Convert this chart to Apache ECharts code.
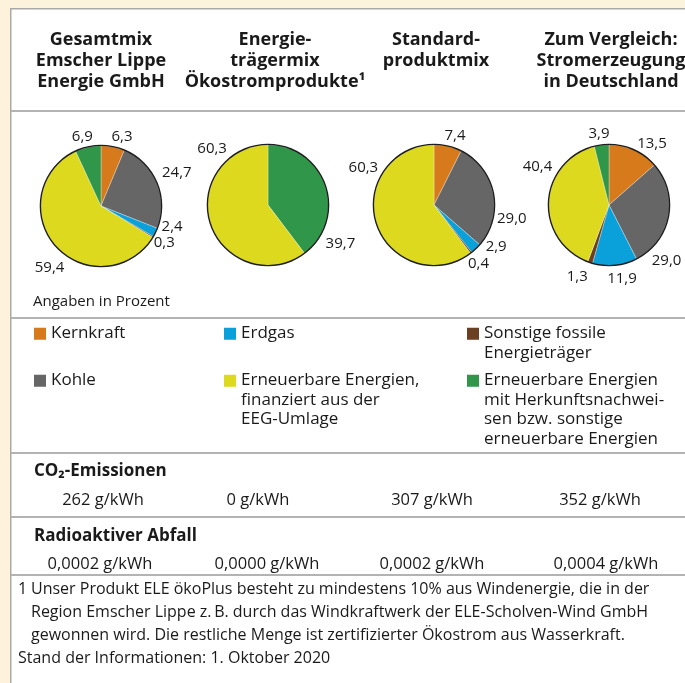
<!DOCTYPE html>
<html>
<head>
<meta charset="utf-8">
<title>Stromkennzeichnung</title>
<script src="https://cdn.jsdelivr.net/npm/echarts@6/dist/echarts.min.js"></script>
<style>
  html, body { margin: 0; padding: 0; background: #fdf2dc; }
  #chart { width: 685px; height: 683px; }
</style>
</head>
<body>
<div id="chart"></div>
<script>
// Energieträger, Reihenfolge wie in den Torten (im Uhrzeigersinn ab 12 Uhr)
const categories = [
  'Kernkraft',
  'Kohle',
  'Erdgas',
  'Sonstige fossile Energieträger',
  'Erneuerbare Energien, finanziert aus der EEG-Umlage',
  'Erneuerbare Energien mit Herkunftsnachweisen bzw. sonstige erneuerbare Energien'
];
// Legendentexte mit Zeilenumbruch
const legendLabels = [
  'Kernkraft',
  'Kohle',
  'Erdgas',
  'Sonstige fossile\nEnergieträger',
  'Erneuerbare Energien,\nfinanziert aus der\nEEG-Umlage',
  'Erneuerbare Energien\nmit Herkunftsnachwei-\nsen bzw. sonstige\nerneuerbare Energien'
];
const pieTitles = [
  'Gesamtmix\nEmscher Lippe\nEnergie GmbH',
  'Energie-\nträgermix\nÖkostromprodukte¹',
  'Standard-\nproduktmix',
  'Zum Vergleich:\nStromerzeugung\nin Deutschland'
];

// Anteile in Prozent
const gesamtmix   = [6.3, 24.7, 2.4, 0.3, 59.4, 6.9];
const oekostrom   = [0, 0, 0, 0, 60.3, 39.7];
const standardmix = [7.4, 29.0, 2.9, 0.4, 60.3, 0];
const deutschland = [13.5, 29.0, 11.9, 1.3, 40.4, 3.9];

// CO2 und radioaktiver Abfall je Spalte (g/kWh)
const co2Values = [262, 0, 307, 352];
const wasteValues = [0.0002, 0.0000, 0.0002, 0.0004];

const footnote = 'Unser Produkt ELE ökoPlus besteht zu mindestens 10% aus Windenergie, die in der\n' +
  'Region Emscher Lippe z.\u2009B. durch das Windkraftwerk der ELE-Scholven-Wind GmbH\n' +
  'gewonnen wird. Die restliche Menge ist zertifizierter Ökostrom aus Wasserkraft.';

// ---- Darstellung ----
const colors = ['#d67a1b', '#666666', '#0aa0d9', '#6b3f21', '#dcd91f', '#30964a'];
const pies = [gesamtmix, oekostrom, standardmix, deutschland];
// beim Ökostrom beginnt die grüne Fläche oben
const sliceOrder = [[0, 1, 2, 3, 4, 5], [5, 0, 1, 2, 3, 4], [0, 1, 2, 3, 4, 5], [0, 1, 2, 3, 4, 5]];
const pieCenters = [[101, 206], [268, 205], [434, 205], [609, 205]];
const pieRadius = 60.5;
// Lage der Zahlen: [Winkel ab 12 Uhr im Uhrzeigersinn, Abstand zum Mittelpunkt]
const labelPlaces = [
  [[17, 72], [66, 83], [106, 74], [120, 73], [220, 80], [345, 72]],
  [null, null, null, null, [315, 79], [118, 82]],
  [[17, 72], [100, 79], [124, 75], [143, 74], [298, 80], null],
  [[35, 75], [134, 80], [170, 75], [204, 78], [298, 81], [352, 72]]
];
const titleX = [101, 275, 436, 611];
const co2X = [103, 258, 432, 600];
const wasteX = [100, 267, 432, 606];

const font = 'Open Sans';
const ink = '#1a1a1a';
const legendLineHeight = 19.5;
const legendCell = [[34, 323.8], [34, 370.8], [224, 323.8], [467, 323.8], [224, 370.8], [467, 370.8]];

const fmtPct = v => v.toFixed(1).replace('.', ',');
const fmtWaste = v => v.toFixed(4).replace('.', ',') + ' g/kWh';

const series = [];
pies.forEach((values, p) => {
  const order = sliceOrder[p].filter(c => values[c] > 0);
  const [cx, cy] = pieCenters[p];
  series.push({
    type: 'pie',
    center: pieCenters[p],
    radius: [0, pieRadius],
    startAngle: 90,
    clockwise: true,
    avoidLabelOverlap: false,
    silent: true,
    itemStyle: { borderColor: 'rgba(255,255,255,0.6)', borderWidth: 0.5 },
    label: {
      show: true,
      position: 'outside',
      formatter: params => fmtPct(params.value),
      fontFamily: font,
      fontSize: 15,
      color: ink
    },
    labelLine: { show: false },
    labelLayout: params => {
      const place = labelPlaces[p][order[params.dataIndex]];
      const a = place[0] * Math.PI / 180;
      return {
        x: cx + place[1] * Math.sin(a),
        y: cy - place[1] * Math.cos(a),
        align: 'center',
        verticalAlign: 'middle'
      };
    },
    data: order.map(c => ({ name: categories[c], value: values[c], itemStyle: { color: colors[c] } }))
  });
  // dunkler Rand um die Torte
  series.push({
    type: 'pie',
    center: pieCenters[p],
    radius: [pieRadius - 0.6, pieRadius + 0.8],
    silent: true,
    label: { show: false },
    labelLine: { show: false },
    itemStyle: { color: '#1e1e1e' },
    data: [{ name: 'Rand', value: 1 }]
  });
});

const legend = categories.map((name, c) => {
  const h = legendLabels[c].split('\n').length * legendLineHeight;
  return {
    left: legendCell[c][0],
    top: legendCell[c][1],
    padding: 0,
    itemWidth: 12,
    itemHeight: h,
    selectedMode: false,
    itemStyle: { borderWidth: 0 },
    data: [{ name, icon: 'path://M0,0L12,0M0,4L12,4L12,16L0,16ZM0,' + h + 'L12,' + h }],
    formatter: () => legendLabels[c],
    textStyle: { fontFamily: font, fontSize: 17, lineHeight: legendLineHeight, color: ink }
  };
});

const txt = (x, y, text, size, extra) => ({
  type: 'text', x, y, silent: true,
  style: Object.assign({ text, fontFamily: font, fontSize: size, fill: ink, align: 'left', verticalAlign: 'middle' }, extra || {})
});
const hline = y => ({
  type: 'line', silent: true,
  shape: { x1: 11, y1: y, x2: 685, y2: y },
  style: { stroke: '#b3b3b3', lineWidth: 2 }
});

const graphics = [
  { type: 'rect', silent: true, z: -10, shape: { x: 10.75, y: 8.75, width: 700, height: 700 },
    style: { fill: '#ffffff', stroke: '#a9a9a9', lineWidth: 1.5 } },
  hline(111), hline(318), hline(453), hline(517), hline(575)
];
pieTitles.forEach((t, i) => {
  graphics.push(txt(titleX[i], 29.7, t, 18, { fontWeight: 'bold', align: 'center', verticalAlign: 'top', lineHeight: 21 }));
});
graphics.push(txt(33, 302, 'Angaben in Prozent', 15));
graphics.push(txt(34, 471, 'CO\u2082-Emissionen', 17, { fontWeight: 'bold' }));
co2Values.forEach((v, i) => graphics.push(txt(co2X[i], 500.3, v + ' g/kWh', 16.5, { align: 'center' })));
graphics.push(txt(34, 536.4, 'Radioaktiver Abfall', 17, { fontWeight: 'bold' }));
wasteValues.forEach((v, i) => graphics.push(txt(wasteX[i], 564.3, fmtWaste(v), 16.5, { align: 'center' })));
graphics.push(txt(18, 578.3, '1', 16, { verticalAlign: 'top', lineHeight: 23 }));
graphics.push(txt(31, 578.3, footnote, 16, { verticalAlign: 'top', lineHeight: 23 }));
graphics.push(txt(18, 658.8, 'Stand der Informationen: 1. Oktober 2020', 16));

const chart = echarts.init(document.getElementById('chart'), null, { renderer: 'canvas' });
chart.setOption({
  backgroundColor: '#fdf2dc',
  animation: false,
  color: colors,
  legend,
  graphic: { elements: graphics },
  series
});
</script>
</body>
</html>
